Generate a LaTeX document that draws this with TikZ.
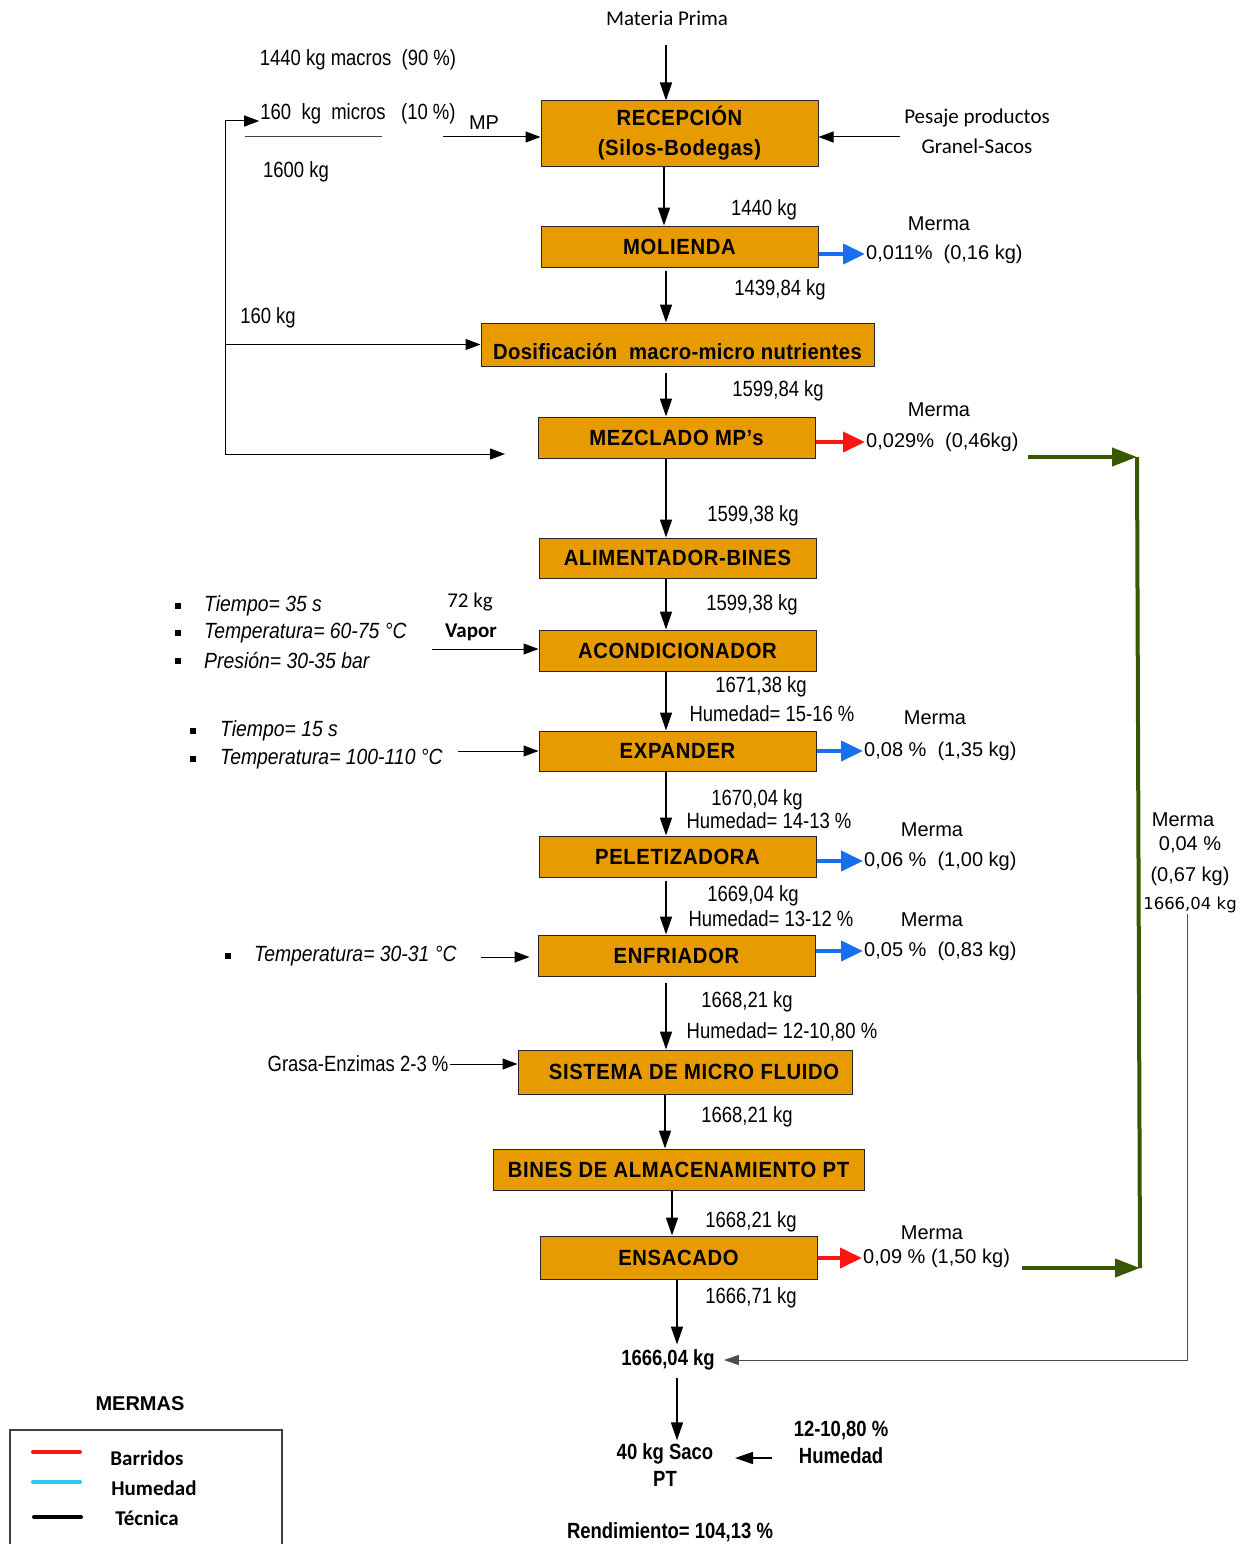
\documentclass[tikz,border=0pt]{standalone}
\usepackage{fontspec}
\setmainfont{Liberation Sans}
\newfontfamily\nfont{Liberation Sans}[FakeStretch=0.84]
\newfontfamily\ifont{Liberation Sans}[FakeStretch=0.88]
\newfontfamily\bxfont{Liberation Sans}[FakeStretch=0.92, LetterSpace=3]
\newfontfamily\dxfont{Liberation Sans}[FakeStretch=0.92, LetterSpace=1.5]
\newfontfamily\afont{Liberation Sans}
\newfontfamily\cfont{Carlito}
\newfontfamily\dfont{DejaVu Sans}
\usetikzlibrary{arrows.meta}
\definecolor{boxor}{RGB}{232,155,0}
\definecolor{mblue}{RGB}{22,112,238}
\definecolor{mred}{RGB}{255,20,20}
\definecolor{mgreen}{RGB}{56,87,0}
\definecolor{lcyan}{RGB}{40,200,240}
\tikzset{
  box/.style={draw=black!85, line width=1pt, fill=boxor, minimum width=277pt, minimum height=41pt,
    inner sep=0pt, align=center, font=\bxfont\bfseries\fontsize{22}{30}\selectfont},
  lbl/.style={inner sep=1pt, font=\nfont\fontsize{22}{26}\selectfont},
  ilbl/.style={inner sep=1pt, anchor=west, font=\ifont\itshape\fontsize{22}{26}\selectfont},
  blbl/.style={inner sep=1pt, align=center, font=\nfont\bfseries\fontsize{22}{27}\selectfont},
  mlbl/.style={inner sep=1pt, font=\afont\fontsize{20}{24}\selectfont},
  clbl/.style={inner sep=1pt, align=center, font=\cfont\fontsize{21}{30}\selectfont},
  flow/.style={line width=1.6pt, -{Triangle[length=18pt,width=12pt]}},
  tarrow/.style={line width=1pt, -{Triangle[length=15pt,width=11pt]}},
  mb/.style={line width=4pt, color=mblue, -{Triangle[length=22pt,width=20pt]}},
  mr/.style={line width=4pt, color=mred, -{Triangle[length=22pt,width=20pt]}},
  mg/.style={line width=4pt, color=mgreen, -{Triangle[length=25pt,width=18pt]}},
}
\begin{document}
\begin{tikzpicture}[x=1pt,y=-1pt]
\useasboundingbox (0,0) rectangle (1251,1544);

% ---------- process boxes ----------
\node[box, minimum height=65pt] (recep) at (679.5,133.5) {RECEPCIÓN\\(Silos-Bodegas)};
\node[box] (mol) at (679.5,246.5) {MOLIENDA};
\node[box, minimum width=393pt, minimum height=43pt, text height=29pt, text depth=0pt,
  font=\dxfont\bfseries\fontsize{22}{30}\selectfont] (dos) at (677.5,344.5) {Dosificación\ \ macro-micro nutrientes};
\node[box] (mez) at (676.5,437.5) {MEZCLADO MP’s};
\node[box, minimum height=40pt] (alim) at (677.5,558) {ALIMENTADOR-BINES};
\node[box] (acond) at (677.5,650.5) {ACONDICIONADOR};
\node[box, minimum height=40pt] (exp) at (677.5,751) {EXPANDER};
\node[box] (pel) at (677.5,856.5) {PELETIZADORA};
\node[box] (enf) at (676.5,955.5) {ENFRIADOR};
\node[box, minimum width=334pt, minimum height=44pt] (sist) at (685,1072) {\hspace{18pt}SISTEMA DE MICRO FLUIDO};
\node[box, minimum width=371pt] (bines) at (678.5,1169.5) {BINES DE ALMACENAMIENTO PT};
\node[box, minimum height=43pt] (ens) at (678.5,1257.5) {ENSACADO};

% ---------- result texts ----------
\node[blbl] (res) at (668,1360) {1666,04 kg};
\node[blbl] (saco) at (665,1465) {40 kg Saco\\PT};
\node[blbl] (hum) at (841,1442) {12-10,80 \%\\Humedad};
\node[blbl] (rend) at (670,1532) {Rendimiento= 104,13 \%};

% ---------- coordinates for main flow ----------
\coordinate (mpin) at (666,45);
\coordinate (x664) at (664,0);
\coordinate (x665) at (665,0);
\coordinate (x666) at (666,0);
\coordinate (x672) at (672,0);
\coordinate (x677) at (677,0);

\node[clbl] (matp) at (667,18) {Materia Prima};
\draw[flow] (mpin) -- (mpin |- recep.north);
\draw[flow] (x664 |- recep.south) -- (x664 |- mol.north);
\draw[flow, shorten <=3pt] (x666 |- mol.south) -- (x666 |- dos.north);
\draw[flow, shorten <=6pt] (x666 |- dos.south) -- (x666 |- mez.north);
\draw[flow] (x666 |- mez.south) -- (x666 |- alim.north);
\draw[flow] (x666 |- alim.south) -- (x666 |- acond.north);
\draw[flow] (x666 |- acond.south) -- (x666 |- exp.north);
\draw[flow] (x666 |- exp.south) -- (x666 |- pel.north);
\draw[flow, shorten <=3pt] (x666 |- pel.south) -- (x666 |- enf.north);
\draw[flow, shorten <=6pt] (x666 |- enf.south) -- (x666 |- sist.north);
\draw[flow] (x665 |- sist.south) -- (x665 |- bines.north);
\draw[flow] (x672 |- bines.south) -- (x672 |- ens.north);
\draw[flow, shorten >=4pt] (x677 |- ens.south) -- (x677 |- res.north);
\draw[flow, shorten <=6pt, shorten >=2pt] (x677 |- res.south) -- (x677 |- saco.north);
\coordinate (humin) at (772,1458);
\draw[flow] (humin) -- (735,1458);

% ---------- flow quantity labels ----------
\node[lbl] (k1440) at (764,210) {1440 kg};
\node[lbl] (k143984) at (780,290) {1439,84 kg};
\node[lbl] (k159984) at (778,391) {1599,84 kg};
\node[lbl] (k159938a) at (753,516) {1599,38 kg};
\node[lbl] (k159938b) at (752,605) {1599,38 kg};
\node[lbl] (k167138) at (761,687) {1671,38 kg};
\node[lbl] (h1516) at (772,714) {Humedad= 15-16 \%};
\node[lbl] (k167004) at (757,800) {1670,04 kg};
\node[lbl] (h1413) at (769,821) {Humedad= 14-13 \%};
\node[lbl] (k166904) at (753,896) {1669,04 kg};
\node[lbl] (h1312) at (771,919) {Humedad= 13-12 \%};
\node[lbl] (k166821a) at (747,1002) {1668,21 kg};
\node[lbl] (h1210) at (782,1032) {Humedad= 12-10,80 \%};
\node[lbl] (k166821b) at (747,1117) {1668,21 kg};
\node[lbl] (k166821c) at (751,1222) {1668,21 kg};
\node[lbl] (k166671) at (751,1298) {1666,71 kg};

% ---------- top-left inputs ----------
\node[lbl] (macros) at (358,60) {1440 kg macros\ \ (90 \%)};
\node[lbl] (micros) at (358,114) {160\ \ kg\ \ micros\ \ \ (10 \%)};
\draw[line width=1pt, black!75] (245,137) -- (382,137);
\node[lbl] (t1600) at (296,172) {1600 kg};
\node[mlbl] (mp) at (484,123) {MP};
\coordinate (mpstart) at (443,137);
\draw[tarrow] (mpstart) -- (mpstart -| recep.west);
\node[lbl] (t160) at (268,318) {160 kg};

% feedback lines
\coordinate (fbtop) at (225,121);
\coordinate (fbbot) at (225,454);
\coordinate (mzin) at (505,454);
\draw[tarrow] (fbbot) -- (fbtop) -- (fbtop -| micros.west);
\draw[tarrow] (fbbot |- dos.west) -- (dos.west);
\draw[tarrow] (fbbot) -- (mzin);

% pesaje
\node[clbl] (pes) at (977,131) {Pesaje productos\\Granel-Sacos};
\coordinate (pesin) at (900,137);
\draw[tarrow] (pesin) -- (pesin -| recep.east);

% ---------- mermas ----------
\node[mlbl] (mA) at (939,224) {Merma};
\node[mlbl, anchor=west] (vA) at (865,254) {0,011\%\ \ (0,16 kg)};
\draw[mb] (mol.east |- vA.west) -- (vA.west);
\node[mlbl] (mB) at (939,410) {Merma};
\node[mlbl, anchor=west] (vB) at (865,442) {0,029\%\ \ (0,46kg)};
\draw[mr] (mez.east |- vB.west) -- (vB.west);
\node[mlbl] (mC) at (935,718) {Merma};
\node[mlbl, anchor=west] (vC) at (863,751) {0,08 \%\ \ (1,35 kg)};
\draw[mb] (exp.east |- vC.west) -- (vC.west);
\node[mlbl] (mD) at (932,830) {Merma};
\node[mlbl, anchor=west] (vD) at (863,861) {0,06 \%\ \ (1,00 kg)};
\draw[mb] (pel.east |- vD.west) -- (vD.west);
\node[mlbl] (mE) at (932,920) {Merma};
\node[mlbl, anchor=west] (vE) at (863,951) {0,05 \%\ \ (0,83 kg)};
\draw[mb] (enf.east |- vE.west) -- (vE.west);
\node[mlbl] (mF) at (932,1233) {Merma};
\node[mlbl, anchor=west] (vF) at (862,1258) {0,09 \% (1,50 kg)};
\draw[mr] (ens.east |- vF.west) -- (vF.west);

% green collector
\coordinate (g1) at (1028,457);
\coordinate (g2) at (1137,457);
\coordinate (g3) at (1140,1268);
\coordinate (g4) at (1022,1268);
\draw[mg] (g1) -- (g2);
\draw[line width=4pt, mgreen] (g2) -- (g3);
\draw[mg] (g4) -- (g3);

\node[mlbl] (mG) at (1183,820) {Merma};
\node[mlbl] (mG2) at (1190,845) {0,04 \%};
\node[mlbl] (mG3) at (1190,876) {(0,67 kg)};
\node[inner sep=1pt, font=\dfont\fontsize{16.5}{20}\selectfont] (mG4) at (1190,905) {1666,04 kg};
\coordinate (gx) at (1187,0);
\draw[line width=1pt, black!70, -{Triangle[length=15pt,width=10pt]}] (gx |- mG4.south) -- (gx |- res.east) -- ([xshift=8pt]res.east);

% ---------- side inputs ----------
\node[clbl] (v72) at (470,602) {72 kg};
\node[clbl, font=\cfont\bfseries\fontsize{21}{26}\selectfont] (vap) at (471,632) {Vapor};
\coordinate (vapin) at (432,649);
\draw[tarrow] (vapin) -- (vapin -| acond.west);

\fill (175,603) rectangle ++(6,6);
\fill (175,630) rectangle ++(6,6);
\fill (175,658) rectangle ++(6,6);
\node[ilbl] (p1) at (203,606) {Tiempo= 35 s};
\node[ilbl] (p2) at (203,633) {Temperatura= 60-75 °C};
\node[ilbl] (p3) at (203,661) {Presión= 30-35 bar};

\fill (190,728) rectangle ++(6,6);
\fill (190,756) rectangle ++(6,6);
\node[ilbl] (q1) at (219,731) {Tiempo= 15 s};
\node[ilbl] (q2) at (219,759) {Temperatura= 100-110 °C};
\coordinate (expin) at (458,751);
\draw[tarrow] (expin) -- (expin -| exp.west);

\fill (225,953) rectangle ++(6,6);
\node[ilbl] (r1) at (253,956) {Temperatura= 30-31 °C};
\coordinate (enfin) at (481,957);
\draw[tarrow, shorten >=8pt] (enfin) -- (enfin -| enf.west);

\node[lbl] (grasa) at (358,1064) {Grasa-Enzimas 2-3 \%};
\draw[tarrow] (grasa.east) -- (grasa.east -| sist.west);

% ---------- legend ----------
\node[inner sep=1pt, font=\afont\bfseries\fontsize{20}{24}\selectfont] (legt) at (140,1404) {MERMAS};
\draw[line width=1.2pt, black!75] (10,1546) -- (10,1430) -- (282,1430) -- (282,1546);
\draw[line width=4pt, mred, line cap=round] (33,1452) -- (80,1452);
\draw[line width=4pt, lcyan, line cap=round] (33,1482) -- (80,1482);
\draw[line width=4pt, black, line cap=round] (34,1517) -- (81,1517);
\node[inner sep=1pt, font=\cfont\bfseries\fontsize{21}{26}\selectfont] (lb1) at (147,1458) {Barridos};
\node[inner sep=1pt, font=\cfont\bfseries\fontsize{21}{26}\selectfont] (lb2) at (154,1488) {Humedad};
\node[inner sep=1pt, font=\cfont\bfseries\fontsize{21}{26}\selectfont] (lb3) at (147,1518) {Técnica};
\end{tikzpicture}
\end{document}
